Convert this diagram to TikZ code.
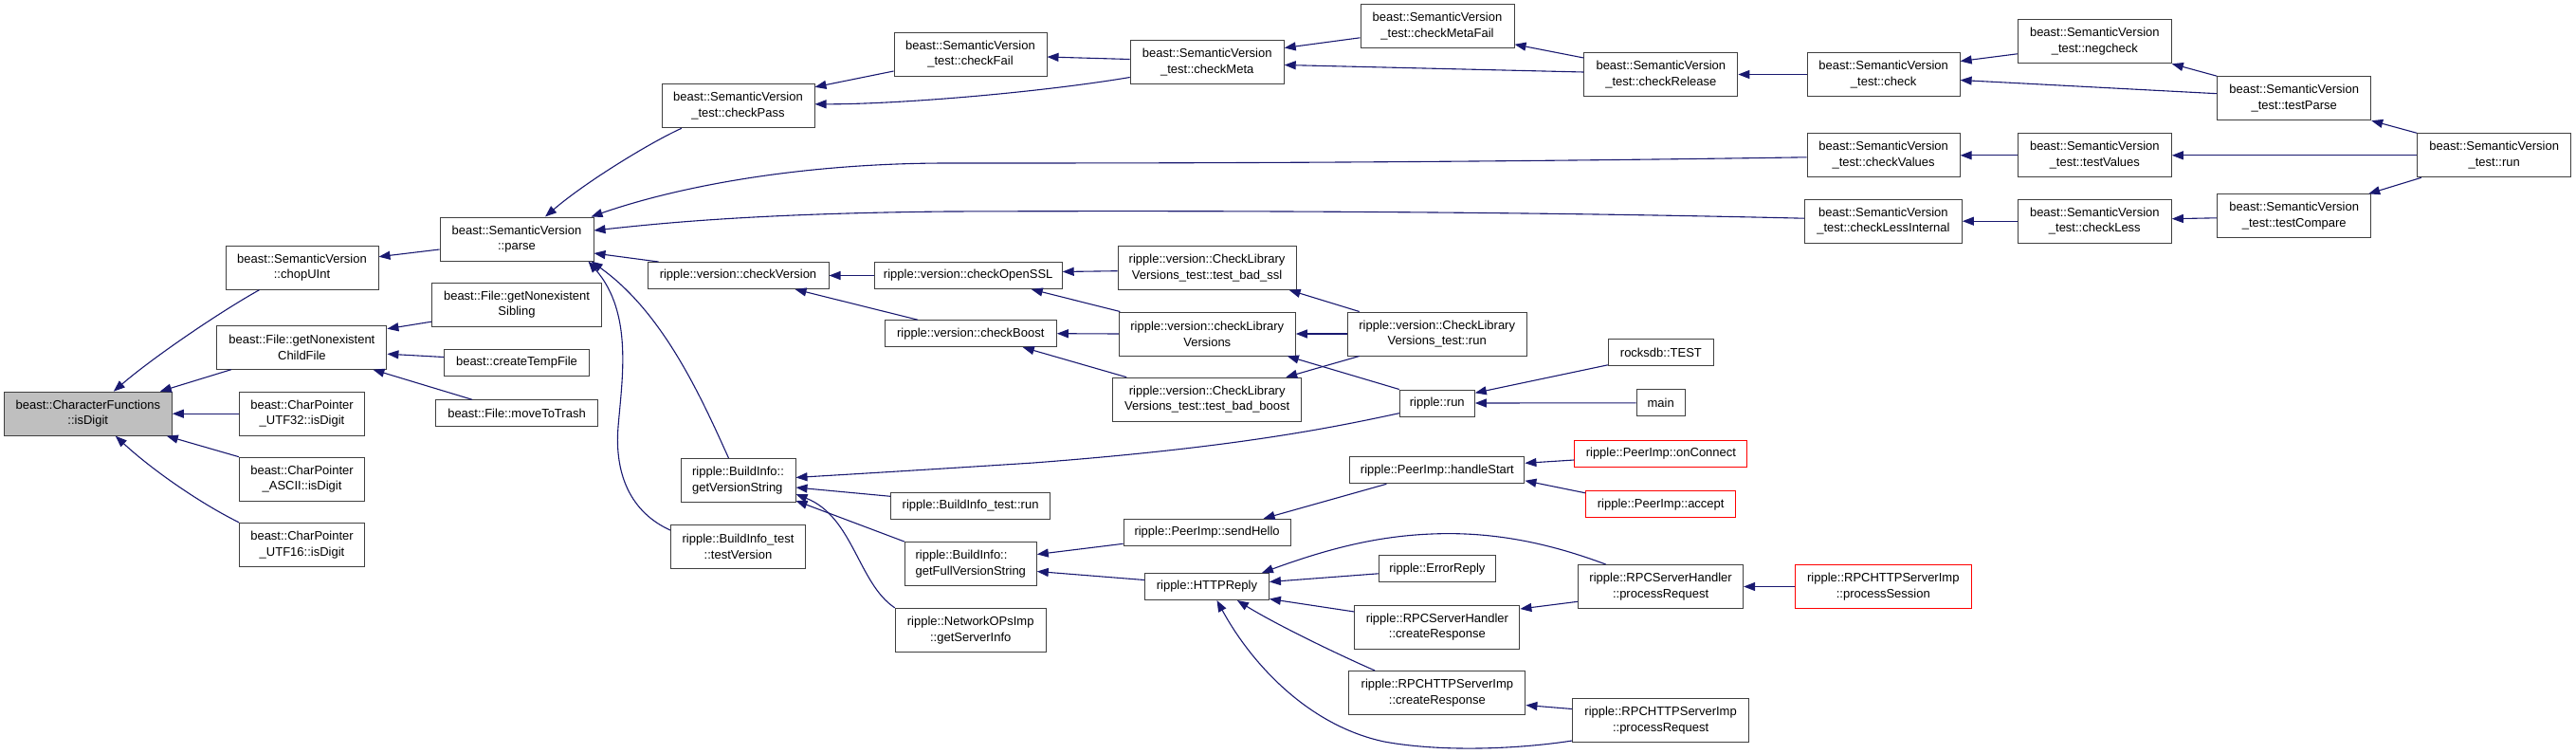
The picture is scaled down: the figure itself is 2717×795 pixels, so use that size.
\documentclass[tikz,border=0pt]{standalone}
\usepackage{fontspec}
\setmainfont{Liberation Sans}
\usetikzlibrary{arrows.meta}
\definecolor{midnightblue}{HTML}{191970}
\definecolor{boxgray}{HTML}{BFBFBF}
\definecolor{boxline}{HTML}{404040}
\begin{document}
\begin{tikzpicture}[x=1pt,y=-1pt,
  box/.style={draw=boxline, line width=1pt, fill=white, inner sep=0pt, align=center,
    font=\fontsize{13}{16.7}\selectfont},
  two/.style={box, minimum height=46},
  one/.style={box, minimum height=28},
  redbox/.style={draw=red},
  edge/.style={draw=midnightblue, line width=1.1pt, -{Triangle[length=12pt,width=9pt]}}]
\useasboundingbox (0,0) rectangle (2717,795);

% column 0
\node[two, minimum width=177, fill=boxgray] (isDigit) at (92.8,436.2) {beast::CharacterFunctions\\::isDigit};
% column 1
\node[two, minimum width=161] (chopUInt) at (318.5,282.2) {beast::SemanticVersion\\::chopUInt};
\node[two, minimum width=179] (childFile) at (318.4,366.2) {beast::File::getNonexistent\\ChildFile};
\node[two, minimum width=132] (utf32) at (318.5,436.2) {beast::CharPointer\\\_UTF32::isDigit};
\node[two, minimum width=132] (ascii) at (318.5,505.2) {beast::CharPointer\\\_ASCII::isDigit};
\node[two, minimum width=132] (utf16) at (318.5,574.3) {beast::CharPointer\\\_UTF16::isDigit};
% column 2
\node[two, minimum width=162] (parse) at (545,252) {beast::SemanticVersion\\::parse};
\node[two, minimum width=179] (sibling) at (545,321.2) {beast::File::getNonexistent\\Sibling};
\node[one, minimum width=153] (tempfile) at (545,382.5) {beast::createTempFile};
\node[one, minimum width=171] (trash) at (545,435.8) {beast::File::moveToTrash};
% column 3
\node[two, minimum width=161] (checkPass) at (778.5,111.8) {beast::SemanticVersion\\\_test::checkPass};
\node[one, minimum width=191] (checkVersion) at (778.5,290.5) {ripple::version::checkVersion};
\node[two, minimum width=121, align=left] (gvs) at (778.5,506.5) {ripple::BuildInfo::\\getVersionString};
\node[two, minimum width=142] (testVersion) at (778.5,576) {ripple::BuildInfo\_test\\::testVersion};
% column 4
\node[two, minimum width=161] (checkFail) at (1023.5,57) {beast::SemanticVersion\\\_test::checkFail};
\node[one, minimum width=198] (checkOpenSSL) at (1021.2,290.5) {ripple::version::checkOpenSSL};
\node[one, minimum width=181] (checkBoost) at (1023.8,351.7) {ripple::version::checkBoost};
\node[one, minimum width=168] (birun) at (1023.6,533.3) {ripple::BuildInfo\_test::run};
\node[two, minimum width=139, align=left] (fvs) at (1023.8,594.5) {ripple::BuildInfo::\\getFullVersionString};
\node[two, minimum width=159] (gsi) at (1023.7,664.3) {ripple::NetworkOPsImp\\::getServerInfo};
% column 5
\node[two, minimum width=162] (checkMeta) at (1273.2,65.5) {beast::SemanticVersion\\\_test::checkMeta};
\node[two, minimum width=188] (tbs) at (1273.1,282.3) {ripple::version::CheckLibrary\\Versions\_test::test\_bad\_ssl};
\node[two, minimum width=186] (clv) at (1273.3,352) {ripple::version::checkLibrary\\Versions};
\node[two, minimum width=199] (tbb) at (1273.2,421.2) {ripple::version::CheckLibrary\\Versions\_test::test\_bad\_boost};
\node[one, minimum width=176] (sendHello) at (1273.1,561.3) {ripple::PeerImp::sendHello};
\node[one, minimum width=131] (httpreply) at (1272.9,618.5) {ripple::HTTPReply};
% column 6
\node[two, minimum width=162] (checkMetaFail) at (1516,27.8) {beast::SemanticVersion\\\_test::checkMetaFail};
\node[two, minimum width=189] (clvrun) at (1515.7,352) {ripple::version::CheckLibrary\\Versions\_test::run};
\node[one, minimum width=79] (run) at (1515.8,425) {ripple::run};
\node[one, minimum width=184] (handleStart) at (1515.9,495.8) {ripple::PeerImp::handleStart};
\node[one, minimum width=123] (errorreply) at (1515.9,599.8) {ripple::ErrorReply};
\node[two, minimum width=174] (rpcshcr) at (1515.9,661) {ripple::RPCServerHandler\\::createResponse};
\node[two, minimum width=186] (rhcr) at (1515.9,730.5) {ripple::RPCHTTPServerImp\\::createResponse};
% column 7
\node[two, minimum width=162] (checkRelease) at (1751.8,78.5) {beast::SemanticVersion\\\_test::checkRelease};
\node[one, minimum width=111] (TEST) at (1751.9,371.8) {rocksdb::TEST};
\node[one, minimum width=51] (main) at (1751.7,424.8) {main};
\node[one, minimum width=182, redbox] (onConnect) at (1751.9,478.5) {ripple::PeerImp::onConnect};
\node[one, minimum width=158, redbox] (accept) at (1751.7,531.8) {ripple::PeerImp::accept};
\node[two, minimum width=174] (rpcshpr) at (1751.6,618.5) {ripple::RPCServerHandler\\::processRequest};
\node[two, minimum width=186] (rhpr) at (1751.6,759.5) {ripple::RPCHTTPServerImp\\::processRequest};
% column 8
\node[two, minimum width=161] (check) at (1986.6,78.5) {beast::SemanticVersion\\\_test::check};
\node[two, minimum width=161] (checkValues) at (1986.6,163.8) {beast::SemanticVersion\\\_test::checkValues};
\node[two, minimum width=166] (cli) at (1986.4,233.2) {beast::SemanticVersion\\\_test::checkLessInternal};
\node[two, minimum width=186, redbox] (processSession) at (1986.3,618.5) {ripple::RPCHTTPServerImp\\::processSession};
% column 9
\node[two, minimum width=162] (negcheck) at (2209.3,43.8) {beast::SemanticVersion\\\_test::negcheck};
\node[two, minimum width=162] (testValues) at (2209.3,163.8) {beast::SemanticVersion\\\_test::testValues};
\node[two, minimum width=162] (checkLess) at (2209.3,233.2) {beast::SemanticVersion\\\_test::checkLess};
% column 10
\node[two, minimum width=162] (testParse) at (2419.7,103.7) {beast::SemanticVersion\\\_test::testParse};
\node[two, minimum width=162] (testCompare) at (2419.7,227.8) {beast::SemanticVersion\\\_test::testCompare};
% column 11
\node[two, minimum width=162] (svrun) at (2630.7,163.8) {beast::SemanticVersion\\\_test::run};

% edges into isDigit
\draw[edge] ([xshift=-45]chopUInt.south) .. controls (230,330) and (160,378) .. ([xshift=27]isDigit.north);
\draw[edge] ([xshift=-74.6]childFile.south) -- ([xshift=-13]isDigit.north east);
\draw[edge] (utf32.west) -- (isDigit.east);
\draw[edge] (ascii.north west) -- ([xshift=-6]isDigit.south east);
\draw[edge] (utf16.north west) .. controls (210,530) and (160,495) .. ([xshift=29]isDigit.south);
% column 2 -> 1
\draw[edge] ([yshift=-11]parse.west) -- ([yshift=11.5]chopUInt.east);
\draw[edge] ([yshift=-18]sibling.west) -- ([yshift=19.5]childFile.east);
\draw[edge] ([yshift=6]tempfile.west) -- ([yshift=-7]childFile.east);
\draw[edge] ([xshift=-47]trash.north) -- ([xshift=-15]childFile.south east);
% into parse
\draw[edge] ([xshift=-59.6]checkPass.south) .. controls (690,148) and (620,190) .. ([xshift=30]parse.north);
\draw[edge] ([yshift=-2]checkValues.west) .. controls (1500,172) and (1200,172) .. (1000,172) .. controls (850,172) and (720,195) .. ([xshift=-3]parse.north east);
\draw[edge] ([yshift=3]cli.west) .. controls (1600,223) and (1300,222) .. (1000,223) .. controls (800,225) and (700,235) .. ([yshift=9]parse.east);
\draw[edge] ([xshift=-84]checkVersion.north) -- ([yshift=-15]parse.east);
\draw[edge] ([xshift=-10]gvs.north) .. controls (740,420) and (700,330) .. ([xshift=-3]parse.south east);
\draw[edge] ([yshift=17]testVersion.west) .. controls (665,540) and (648,500) .. (652,450) .. controls (656,400) and (668,330) .. ([xshift=-6]parse.south east);
% checkPass / checkFail / checkMeta
\draw[edge] ([yshift=-18]checkFail.west) -- ([yshift=20]checkPass.east);
\draw[edge] ([yshift=-16]checkMeta.west) .. controls (1100,97) and (950,110) .. ([yshift=2]checkPass.east);
\draw[edge] ([yshift=3]checkMeta.west) -- ([yshift=-3]checkFail.east);
\draw[edge] ([yshift=-12]checkMetaFail.west) -- ([yshift=15]checkMeta.east);
\draw[edge] ([yshift=2.5]checkRelease.west) -- ([yshift=-3]checkMeta.east);
\draw[edge] ([yshift=17.5]checkRelease.west) -- ([yshift=-19]checkMetaFail.east);
\draw[edge] (check.west) -- (checkRelease.east);
\draw[edge] ([yshift=-13]negcheck.west) -- ([yshift=14]check.east);
\draw[edge] ([yshift=5]testParse.west) -- ([yshift=-6]check.east);
\draw[edge] (testParse.north west) -- (negcheck.south east);
\draw[edge] (svrun.north west) -- (testParse.south east);
\draw[edge] (testValues.west) -- (checkValues.east);
\draw[edge] (svrun.west) -- (testValues.east);
\draw[edge] (checkLess.west) -- (cli.east);
\draw[edge] ([yshift=-2]testCompare.west) -- ([yshift=2.5]checkLess.east);
\draw[edge] ([xshift=4.6]svrun.south west) -- ([xshift=-3]testCompare.north east);
% version checks
\draw[edge] (checkOpenSSL.west) -- (checkVersion.east);
\draw[edge] ([xshift=-55.8]checkBoost.north) -- ([xshift=60]checkVersion.south);
\draw[edge] ([yshift=-3.4]tbs.west) -- ([yshift=4]checkOpenSSL.east);
\draw[edge] ([xshift=1.5]clv.north west) -- ([xshift=-33]checkOpenSSL.south east);
\draw[edge] (clv.west) -- (checkBoost.east);
\draw[edge] ([xshift=15]tbb.north west) -- ([xshift=-36]checkBoost.south east);
\draw[edge] ([xshift=13]clvrun.north west) -- ([xshift=-8]tbs.south east);
\draw[edge] (clvrun.west) -- (clv.east);
\draw[edge] ([xshift=13]clvrun.south west) -- ([xshift=-17]tbb.north east);
\draw[edge] (run.north west) -- ([xshift=-9]clv.south east);
\draw[edge] ([yshift=-13]TEST.west) -- ([yshift=10.7]run.east);
\draw[edge] (main.west) -- (run.east);
% build info
\draw[edge] ([yshift=-10.7]run.west) .. controls (1400,452) and (1300,472) .. (1090,488) .. controls (950,497) and (880,501) .. ([yshift=3]gvs.east);
\draw[edge] ([yshift=10]birun.west) -- ([yshift=-7.5]gvs.east);
\draw[edge] (fvs.north west) -- ([yshift=2]gvs.south east);
\draw[edge] (gsi.north west) .. controls (905,615) and (900,545) .. ([yshift=-14.5]gvs.east);
\draw[edge] ([yshift=-12]sendHello.west) -- ([yshift=10]fvs.east);
\draw[edge] ([yshift=7]httpreply.west) -- ([yshift=-8]fvs.east);
\draw[edge] ([xshift=-53.5]handleStart.south) -- ([xshift=59.5]sendHello.north);
\draw[edge] ([yshift=-6.5]onConnect.west) -- ([yshift=7.5]handleStart.east);
\draw[edge] ([yshift=12]accept.west) -- ([yshift=-11]handleStart.east);
% HTTP reply
\draw[edge] ([xshift=-58]rpcshpr.north) .. controls (1640,575) and (1580,560) .. (1510,563) .. controls (1460,565) and (1410,575) .. ([xshift=-8]httpreply.north east);
\draw[edge] ([yshift=-5]errorreply.west) -- ([yshift=5]httpreply.east);
\draw[edge] ([yshift=16]rpcshcr.west) -- ([yshift=-13]httpreply.east);
\draw[edge] ([xshift=-65.8]rhcr.north) .. controls (1400,685) and (1340,655) .. ([xshift=32]httpreply.south);
\draw[edge] ([yshift=-21.5]rhpr.west) .. controls (1600,790) and (1520,793) .. (1460,782) .. controls (1380,765) and (1320,700) .. ([xshift=10.6]httpreply.south);
\draw[edge] ([yshift=-15.8]rpcshpr.west) -- ([yshift=19]rpcshcr.east);
\draw[edge] ([yshift=12]rhpr.west) -- ([yshift=-13]rhcr.east);
\draw[edge] (processSession.west) -- (rpcshpr.east);
\end{tikzpicture}
\end{document}
